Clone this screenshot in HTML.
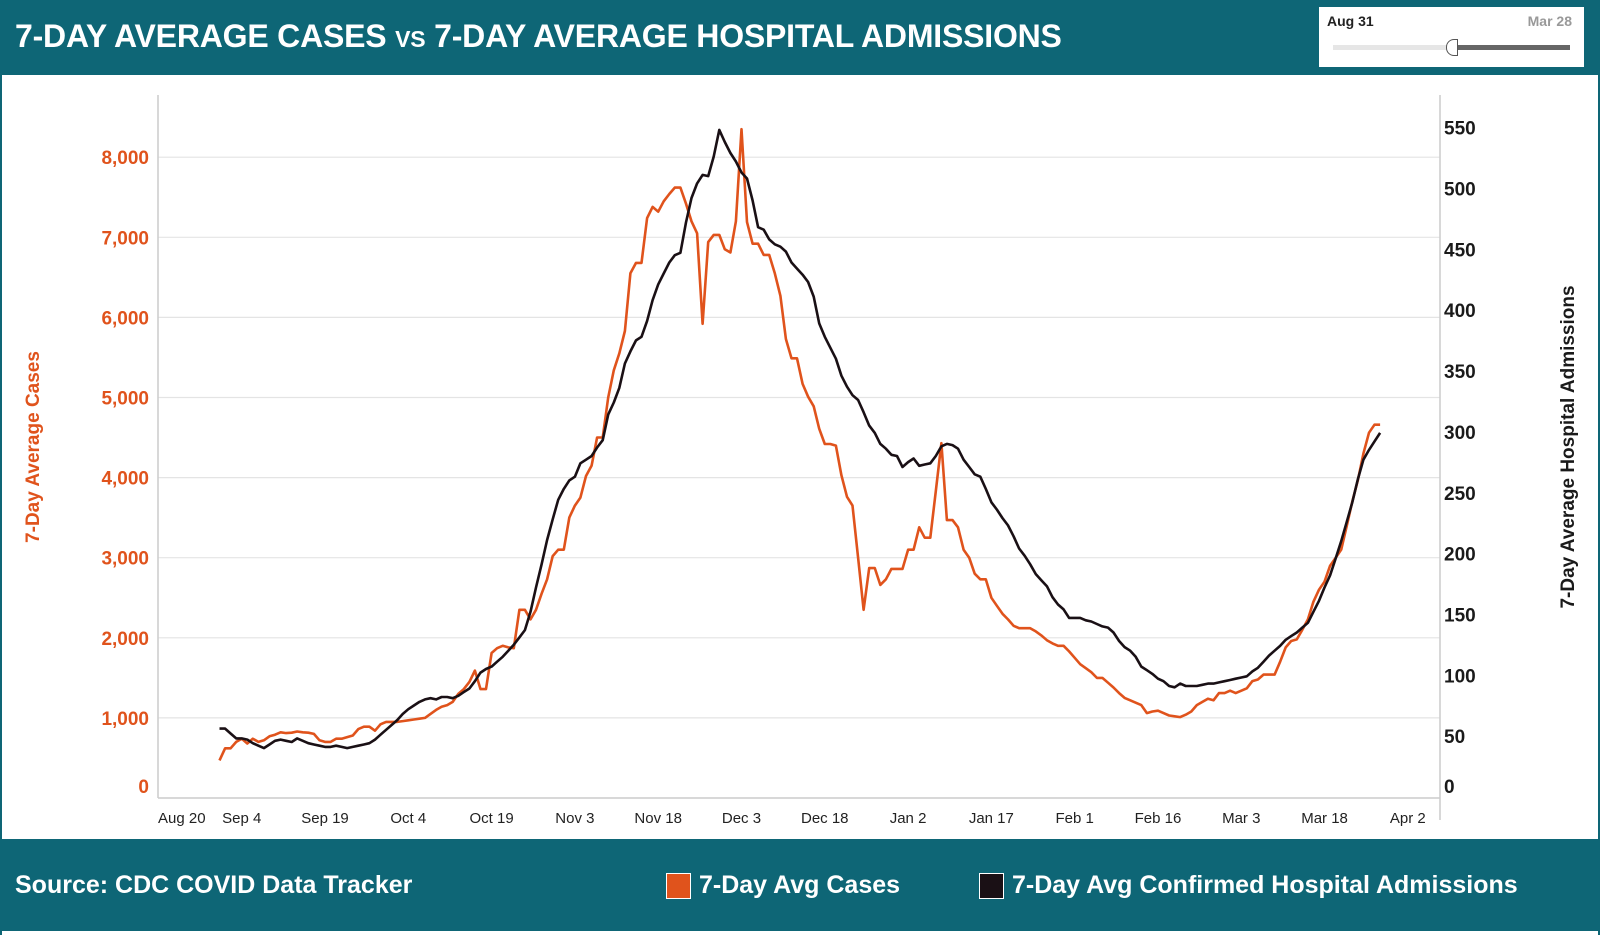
<!DOCTYPE html>
<html><head><meta charset="utf-8">
<style>
body{margin:0;width:1600px;height:935px;background:#fff;font-family:"Liberation Sans",Arial,sans-serif;overflow:hidden;position:relative}
.hdr{position:absolute;left:0;top:0;width:1600px;height:75px;background:#0e6676}
.ftr{position:absolute;left:0;top:839px;width:1600px;height:92px;background:#0e6676}
.side{position:absolute;top:0;width:2px;height:935px;background:#0e6676}
.title{position:absolute;left:15px;top:18px;color:#fff;font-weight:bold;font-size:32px;white-space:nowrap;letter-spacing:-0.2px}
.title small{font-size:23px}
.slider{position:absolute;left:1319px;top:7px;width:265px;height:60px;background:#fff}
.ftxt{position:absolute;color:#fff;font-weight:bold;font-size:25px;white-space:nowrap;top:871px}
.sw{position:absolute;top:873px;width:23px;height:24px;border:1.5px solid #fff}
svg{position:absolute;left:0;top:0}
</style></head><body>
<div class="hdr"></div>
<div class="title">7-DAY AVERAGE CASES <small>VS</small> 7-DAY AVERAGE HOSPITAL ADMISSIONS</div>
<div class="slider">
  <div style="position:absolute;left:8px;top:6px;font-size:14px;font-weight:bold;color:#222">Aug 31</div>
  <div style="position:absolute;right:12px;top:6px;font-size:14px;font-weight:bold;color:#999">Mar 28</div>
  <div style="position:absolute;left:14px;top:38px;width:120px;height:5px;background:#e6e6e6"></div>
  <div style="position:absolute;left:134px;top:38px;width:117px;height:5px;background:#666"></div>
  <div style="position:absolute;left:127px;top:32px;width:10px;height:15px;background:#fff;border:1.3px solid #555;border-radius:8px 0 0 8px"></div>
</div>
<div class="side" style="left:0"></div>
<div class="side" style="left:1598px"></div>
<div class="ftr"></div>
<div class="ftxt" style="left:15px">Source: CDC COVID Data Tracker</div>
<div class="sw" style="left:666px;background:#e0531c"></div>
<div class="ftxt" style="left:699px">7-Day Avg Cases</div>
<div class="sw" style="left:979px;background:#1a1015"></div>
<div class="ftxt" style="left:1012px">7-Day Avg Confirmed Hospital Admissions</div>
<svg id="chart" width="1600" height="935"></svg>
<script>
const startDate = "2020-08-31";
const cases = [470,620,620,700,740,680,740,700,720,770,
790,820,810,815,830,820,815,800,720,700,
700,740,740,760,780,860,890,890,840,920,
950,950,950,960,970,980,990,1000,1050,1100,
1140,1160,1200,1300,1360,1450,1590,1360,1360,1810,
1870,1900,1880,1870,2350,2350,2230,2350,2550,2730,
3020,3100,3100,3500,3650,3750,4020,4150,4500,4500,
5000,5340,5550,5830,6550,6680,6680,7240,7380,7320,
7450,7540,7620,7620,7420,7200,7050,5920,6940,7030,
7030,6850,6810,7200,8350,7190,6920,6920,6780,6780,
6550,6270,5730,5490,5490,5170,5010,4890,4610,4420,
4420,4400,4030,3760,3650,3000,2350,2870,2870,2660,
2730,2860,2860,2860,3100,3100,3380,3250,3250,3830,
4430,3470,3470,3380,3100,3000,2800,2730,2730,2500,
2400,2300,2230,2150,2120,2120,2120,2080,2030,1970,
1930,1900,1900,1830,1750,1670,1620,1570,1500,1500,
1440,1380,1310,1250,1220,1190,1160,1060,1080,1090,
1060,1030,1020,1010,1040,1080,1160,1200,1240,1220,
1310,1310,1340,1310,1340,1370,1460,1480,1540,1540,
1540,1700,1880,1960,1980,2100,2230,2450,2600,2700,
2900,3000,3100,3400,3700,3970,4300,4560,4660,4660];
const hosp = [57,57,53,49,49,48,45,43,41,44,
47,48,47,46,49,47,45,44,43,42,
42,43,42,41,42,43,44,45,48,52,
56,60,64,69,73,76,79,81,82,81,
83,83,82,84,87,90,96,103,106,108,
112,116,121,126,132,138,153,173,192,212,
229,245,254,261,264,275,278,281,288,294,
315,325,337,357,367,376,379,392,409,422,
431,440,446,448,473,493,505,512,511,527,
549,539,530,523,514,509,491,469,467,459,
455,453,449,440,435,430,424,412,390,379,
370,361,347,338,331,327,317,306,300,291,
287,282,281,272,276,279,273,274,275,281,
289,291,290,287,278,272,266,264,254,243,
237,230,224,215,205,199,192,184,179,174,
165,159,155,148,148,148,146,145,143,141,
140,136,129,124,121,116,108,105,102,98,
96,92,91,94,92,92,92,93,94,94,
95,96,97,98,99,100,104,107,112,117,
121,125,130,133,136,140,144,153,162,173,
183,197,211,227,243,262,278,286,293,300];
const leftTicks = [0,1000,2000,3000,4000,5000,6000,7000,8000];
const rightTicks = [0,50,100,150,200,250,300,350,400,450,500,550];
const xTickLabels = ["Aug 20","Sep 4","Sep 19","Oct 4","Oct 19","Nov 3","Nov 18","Dec 3","Dec 18","Jan 2","Jan 17","Feb 1","Feb 16","Mar 3","Mar 18","Apr 2"];
const xTickDays = [-11,4,19,34,49,64,79,94,109,124,139,154,169,184,199,214];

const NS="http://www.w3.org/2000/svg";
const svg=document.getElementById('chart');
const X0=158,X1=1440,Y0=798,YT=95;
const dayX=d=>219.5+d*5.553;
const yL=v=>Y0-v*0.0801;
const yR=v=>Y0-v*1.217;
function mk(tag,attrs,parent){const e=document.createElementNS(NS,tag);for(const k in attrs)e.setAttribute(k,attrs[k]);(parent||svg).appendChild(e);return e;}

leftTicks.forEach(v=>{
  if(v>0){const g=mk('line',{x1:X0,x2:X1,y1:yL(v),y2:yL(v),stroke:'#e4e4e4','stroke-width':1.2});
  
  }
  const t=mk('text',{x:149,y:(v===0?786:yL(v))+7,'text-anchor':'end','font-size':19,'font-weight':'bold',fill:'#e0531c'});
  t.textContent=v.toLocaleString('en-US');
  
  
});
rightTicks.forEach(v=>{
  const t=mk('text',{x:1444,y:(v===0?786:yR(v)-1)+7,'font-size':19,'font-weight':'bold',fill:'#1a1a1a'});
  t.textContent=v;
  
  
});
const axL=mk('line',{x1:X0,x2:X0,y1:YT,y2:Y0,stroke:'#cccccc','stroke-width':1.5});


const axR=mk('line',{x1:X1,x2:X1,y1:YT,y2:820,stroke:'#cccccc','stroke-width':1.5});


const axB=mk('line',{x1:X0,x2:X1,y1:Y0,y2:Y0,stroke:'#cccccc','stroke-width':1.5});


xTickLabels.forEach((s,i)=>{
  const first=i===0;
  const t=mk('text',{x:first?X0:dayX(xTickDays[i]),y:823,'text-anchor':first?'start':'middle','font-size':15,fill:'#222'});
  t.textContent=s;
  
  
});
const lt=mk('text',{x:0,y:0,transform:'translate(39,447) rotate(-90)','text-anchor':'middle','font-size':19,'font-weight':'bold',fill:'#e0531c'});
lt.textContent='7-Day Average Cases';


const rt=mk('text',{x:0,y:0,transform:'translate(1574,447) rotate(-90)','text-anchor':'middle','font-size':19,'font-weight':'bold',fill:'#1a1a1a'});
rt.textContent='7-Day Average Hospital Admissions';



const pc=mk('path',{d:cases.map((v,i)=>(i?'L':'M')+dayX(i).toFixed(1)+' '+yL(v).toFixed(1)).join(''),fill:'none',stroke:'#e0531c','stroke-width':2.6,'stroke-linejoin':'round'});


const ph=mk('path',{d:hosp.map((v,i)=>(i?'L':'M')+dayX(i).toFixed(1)+' '+yR(v).toFixed(1)).join(''),fill:'none',stroke:'#1a1015','stroke-width':2.6,'stroke-linejoin':'round'});


</script>
</body></html>
